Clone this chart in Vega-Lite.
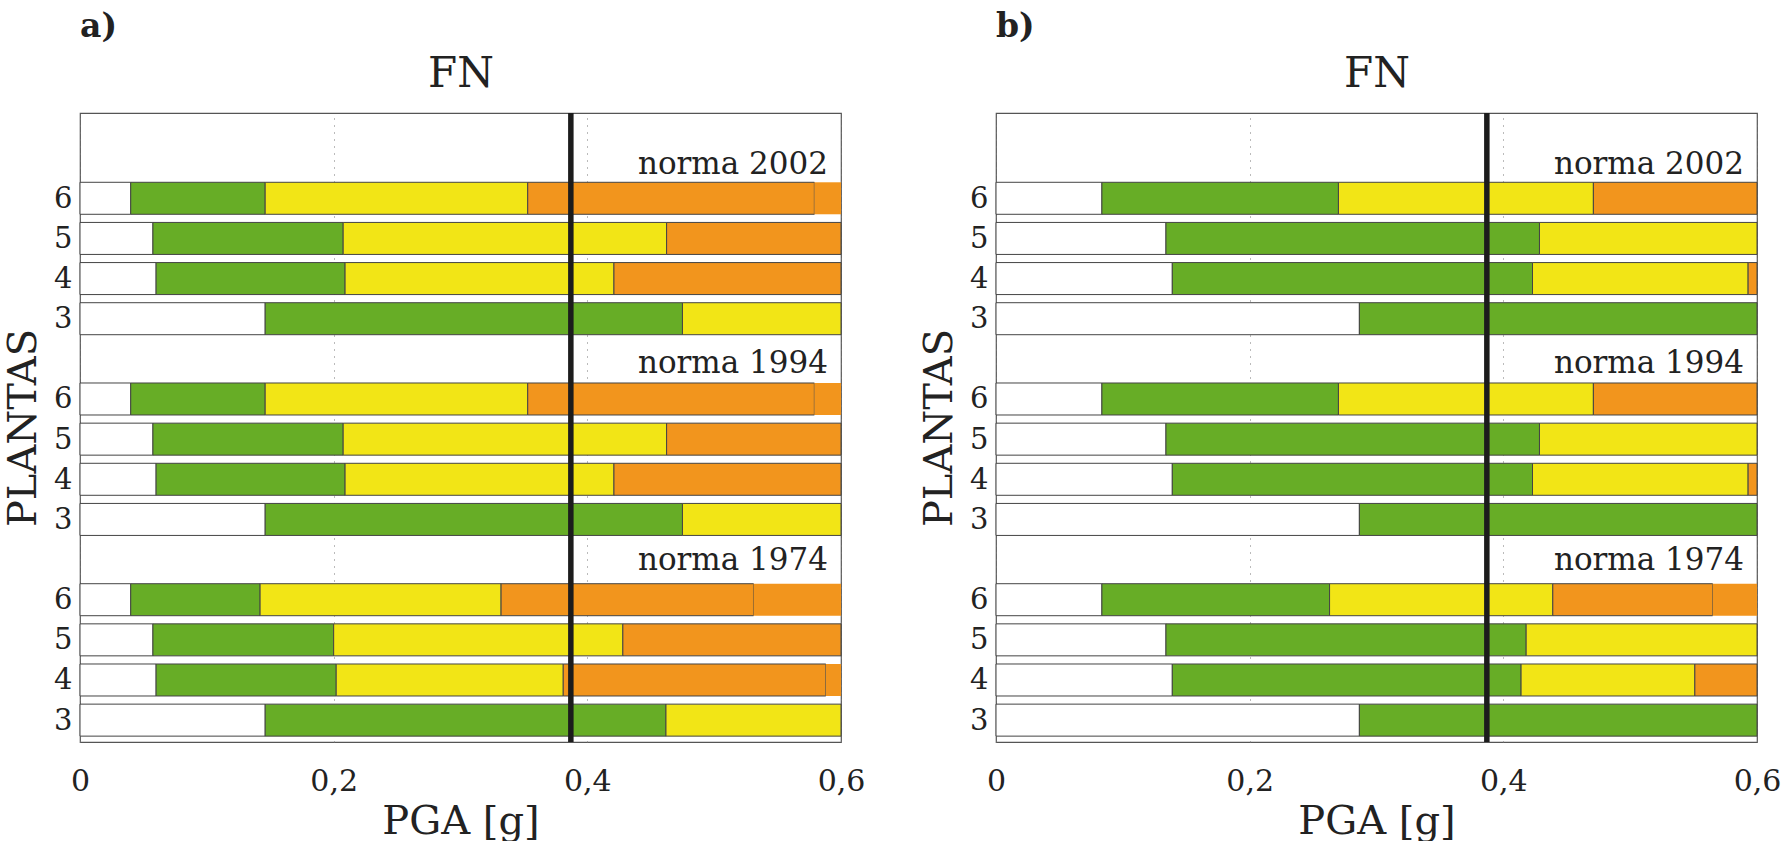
{
  "$schema": "https://vega.github.io/schema/vega-lite/v6.json",
  "background": "white",
  "padding": {"left": 2, "top": 10, "right": 0, "bottom": 0},
  "spacing": 52,
  "config": {
    "font": "DejaVu Serif",
    "view": {"stroke": "#555", "strokeWidth": 1.2},
    "axis": {"labelFont": "DejaVu Serif", "titleFont": "DejaVu Serif", "labelColor": "#222", "titleColor": "#222", "titleFontWeight": "normal"}
  },
  "datasets": {
    "bars": [
      {"panel": "a", "norma": "2002", "planta": 6, "pos": 2, "seg": "blanco", "x0": 0, "x1": 0.040},
      {"panel": "a", "norma": "2002", "planta": 6, "pos": 2, "seg": "verde", "x0": 0.040, "x1": 0.146},
      {"panel": "a", "norma": "2002", "planta": 6, "pos": 2, "seg": "amarillo", "x0": 0.146, "x1": 0.353},
      {"panel": "a", "norma": "2002", "planta": 6, "pos": 2, "seg": "naranja", "x0": 0.353, "x1": 0.579},
      {"panel": "a", "norma": "2002", "planta": 6, "pos": 2, "seg": "extra", "x0": 0.579, "x1": 0.6},
      {"panel": "a", "norma": "2002", "planta": 5, "pos": 3, "seg": "blanco", "x0": 0, "x1": 0.0575},
      {"panel": "a", "norma": "2002", "planta": 5, "pos": 3, "seg": "verde", "x0": 0.0575, "x1": 0.2075},
      {"panel": "a", "norma": "2002", "planta": 5, "pos": 3, "seg": "amarillo", "x0": 0.2075, "x1": 0.4625},
      {"panel": "a", "norma": "2002", "planta": 5, "pos": 3, "seg": "naranja", "x0": 0.4625, "x1": 0.6},
      {"panel": "a", "norma": "2002", "planta": 4, "pos": 4, "seg": "blanco", "x0": 0, "x1": 0.060},
      {"panel": "a", "norma": "2002", "planta": 4, "pos": 4, "seg": "verde", "x0": 0.060, "x1": 0.209},
      {"panel": "a", "norma": "2002", "planta": 4, "pos": 4, "seg": "amarillo", "x0": 0.209, "x1": 0.421},
      {"panel": "a", "norma": "2002", "planta": 4, "pos": 4, "seg": "naranja", "x0": 0.421, "x1": 0.6},
      {"panel": "a", "norma": "2002", "planta": 3, "pos": 5, "seg": "blanco", "x0": 0, "x1": 0.146},
      {"panel": "a", "norma": "2002", "planta": 3, "pos": 5, "seg": "verde", "x0": 0.146, "x1": 0.475},
      {"panel": "a", "norma": "2002", "planta": 3, "pos": 5, "seg": "amarillo", "x0": 0.475, "x1": 0.6},
      {"panel": "a", "norma": "1994", "planta": 6, "pos": 7, "seg": "blanco", "x0": 0, "x1": 0.040},
      {"panel": "a", "norma": "1994", "planta": 6, "pos": 7, "seg": "verde", "x0": 0.040, "x1": 0.146},
      {"panel": "a", "norma": "1994", "planta": 6, "pos": 7, "seg": "amarillo", "x0": 0.146, "x1": 0.353},
      {"panel": "a", "norma": "1994", "planta": 6, "pos": 7, "seg": "naranja", "x0": 0.353, "x1": 0.579},
      {"panel": "a", "norma": "1994", "planta": 6, "pos": 7, "seg": "extra", "x0": 0.579, "x1": 0.6},
      {"panel": "a", "norma": "1994", "planta": 5, "pos": 8, "seg": "blanco", "x0": 0, "x1": 0.0575},
      {"panel": "a", "norma": "1994", "planta": 5, "pos": 8, "seg": "verde", "x0": 0.0575, "x1": 0.2075},
      {"panel": "a", "norma": "1994", "planta": 5, "pos": 8, "seg": "amarillo", "x0": 0.2075, "x1": 0.4625},
      {"panel": "a", "norma": "1994", "planta": 5, "pos": 8, "seg": "naranja", "x0": 0.4625, "x1": 0.6},
      {"panel": "a", "norma": "1994", "planta": 4, "pos": 9, "seg": "blanco", "x0": 0, "x1": 0.060},
      {"panel": "a", "norma": "1994", "planta": 4, "pos": 9, "seg": "verde", "x0": 0.060, "x1": 0.209},
      {"panel": "a", "norma": "1994", "planta": 4, "pos": 9, "seg": "amarillo", "x0": 0.209, "x1": 0.421},
      {"panel": "a", "norma": "1994", "planta": 4, "pos": 9, "seg": "naranja", "x0": 0.421, "x1": 0.6},
      {"panel": "a", "norma": "1994", "planta": 3, "pos": 10, "seg": "blanco", "x0": 0, "x1": 0.146},
      {"panel": "a", "norma": "1994", "planta": 3, "pos": 10, "seg": "verde", "x0": 0.146, "x1": 0.475},
      {"panel": "a", "norma": "1994", "planta": 3, "pos": 10, "seg": "amarillo", "x0": 0.475, "x1": 0.6},
      {"panel": "a", "norma": "1974", "planta": 6, "pos": 12, "seg": "blanco", "x0": 0, "x1": 0.040},
      {"panel": "a", "norma": "1974", "planta": 6, "pos": 12, "seg": "verde", "x0": 0.040, "x1": 0.142},
      {"panel": "a", "norma": "1974", "planta": 6, "pos": 12, "seg": "amarillo", "x0": 0.142, "x1": 0.332},
      {"panel": "a", "norma": "1974", "planta": 6, "pos": 12, "seg": "naranja", "x0": 0.332, "x1": 0.531},
      {"panel": "a", "norma": "1974", "planta": 6, "pos": 12, "seg": "extra", "x0": 0.531, "x1": 0.6},
      {"panel": "a", "norma": "1974", "planta": 5, "pos": 13, "seg": "blanco", "x0": 0, "x1": 0.0575},
      {"panel": "a", "norma": "1974", "planta": 5, "pos": 13, "seg": "verde", "x0": 0.0575, "x1": 0.200},
      {"panel": "a", "norma": "1974", "planta": 5, "pos": 13, "seg": "amarillo", "x0": 0.200, "x1": 0.428},
      {"panel": "a", "norma": "1974", "planta": 5, "pos": 13, "seg": "naranja", "x0": 0.428, "x1": 0.6},
      {"panel": "a", "norma": "1974", "planta": 4, "pos": 14, "seg": "blanco", "x0": 0, "x1": 0.060},
      {"panel": "a", "norma": "1974", "planta": 4, "pos": 14, "seg": "verde", "x0": 0.060, "x1": 0.202},
      {"panel": "a", "norma": "1974", "planta": 4, "pos": 14, "seg": "amarillo", "x0": 0.202, "x1": 0.381},
      {"panel": "a", "norma": "1974", "planta": 4, "pos": 14, "seg": "naranja", "x0": 0.381, "x1": 0.588},
      {"panel": "a", "norma": "1974", "planta": 4, "pos": 14, "seg": "extra", "x0": 0.588, "x1": 0.6},
      {"panel": "a", "norma": "1974", "planta": 3, "pos": 15, "seg": "blanco", "x0": 0, "x1": 0.146},
      {"panel": "a", "norma": "1974", "planta": 3, "pos": 15, "seg": "verde", "x0": 0.146, "x1": 0.462},
      {"panel": "a", "norma": "1974", "planta": 3, "pos": 15, "seg": "amarillo", "x0": 0.462, "x1": 0.6},
      {"panel": "b", "norma": "2002", "planta": 6, "pos": 2, "seg": "blanco", "x0": 0, "x1": 0.0835},
      {"panel": "b", "norma": "2002", "planta": 6, "pos": 2, "seg": "verde", "x0": 0.0835, "x1": 0.270},
      {"panel": "b", "norma": "2002", "planta": 6, "pos": 2, "seg": "amarillo", "x0": 0.270, "x1": 0.471},
      {"panel": "b", "norma": "2002", "planta": 6, "pos": 2, "seg": "naranja", "x0": 0.471, "x1": 0.6},
      {"panel": "b", "norma": "2002", "planta": 5, "pos": 3, "seg": "blanco", "x0": 0, "x1": 0.134},
      {"panel": "b", "norma": "2002", "planta": 5, "pos": 3, "seg": "verde", "x0": 0.134, "x1": 0.4285},
      {"panel": "b", "norma": "2002", "planta": 5, "pos": 3, "seg": "amarillo", "x0": 0.4285, "x1": 0.6},
      {"panel": "b", "norma": "2002", "planta": 4, "pos": 4, "seg": "blanco", "x0": 0, "x1": 0.139},
      {"panel": "b", "norma": "2002", "planta": 4, "pos": 4, "seg": "verde", "x0": 0.139, "x1": 0.423},
      {"panel": "b", "norma": "2002", "planta": 4, "pos": 4, "seg": "amarillo", "x0": 0.423, "x1": 0.593},
      {"panel": "b", "norma": "2002", "planta": 4, "pos": 4, "seg": "naranja", "x0": 0.593, "x1": 0.6},
      {"panel": "b", "norma": "2002", "planta": 3, "pos": 5, "seg": "blanco", "x0": 0, "x1": 0.2865},
      {"panel": "b", "norma": "2002", "planta": 3, "pos": 5, "seg": "verde", "x0": 0.2865, "x1": 0.6},
      {"panel": "b", "norma": "1994", "planta": 6, "pos": 7, "seg": "blanco", "x0": 0, "x1": 0.0835},
      {"panel": "b", "norma": "1994", "planta": 6, "pos": 7, "seg": "verde", "x0": 0.0835, "x1": 0.270},
      {"panel": "b", "norma": "1994", "planta": 6, "pos": 7, "seg": "amarillo", "x0": 0.270, "x1": 0.471},
      {"panel": "b", "norma": "1994", "planta": 6, "pos": 7, "seg": "naranja", "x0": 0.471, "x1": 0.6},
      {"panel": "b", "norma": "1994", "planta": 5, "pos": 8, "seg": "blanco", "x0": 0, "x1": 0.134},
      {"panel": "b", "norma": "1994", "planta": 5, "pos": 8, "seg": "verde", "x0": 0.134, "x1": 0.4285},
      {"panel": "b", "norma": "1994", "planta": 5, "pos": 8, "seg": "amarillo", "x0": 0.4285, "x1": 0.6},
      {"panel": "b", "norma": "1994", "planta": 4, "pos": 9, "seg": "blanco", "x0": 0, "x1": 0.139},
      {"panel": "b", "norma": "1994", "planta": 4, "pos": 9, "seg": "verde", "x0": 0.139, "x1": 0.423},
      {"panel": "b", "norma": "1994", "planta": 4, "pos": 9, "seg": "amarillo", "x0": 0.423, "x1": 0.593},
      {"panel": "b", "norma": "1994", "planta": 4, "pos": 9, "seg": "naranja", "x0": 0.593, "x1": 0.6},
      {"panel": "b", "norma": "1994", "planta": 3, "pos": 10, "seg": "blanco", "x0": 0, "x1": 0.2865},
      {"panel": "b", "norma": "1994", "planta": 3, "pos": 10, "seg": "verde", "x0": 0.2865, "x1": 0.6},
      {"panel": "b", "norma": "1974", "planta": 6, "pos": 12, "seg": "blanco", "x0": 0, "x1": 0.0835},
      {"panel": "b", "norma": "1974", "planta": 6, "pos": 12, "seg": "verde", "x0": 0.0835, "x1": 0.263},
      {"panel": "b", "norma": "1974", "planta": 6, "pos": 12, "seg": "amarillo", "x0": 0.263, "x1": 0.439},
      {"panel": "b", "norma": "1974", "planta": 6, "pos": 12, "seg": "naranja", "x0": 0.439, "x1": 0.565},
      {"panel": "b", "norma": "1974", "planta": 6, "pos": 12, "seg": "extra", "x0": 0.565, "x1": 0.6},
      {"panel": "b", "norma": "1974", "planta": 5, "pos": 13, "seg": "blanco", "x0": 0, "x1": 0.134},
      {"panel": "b", "norma": "1974", "planta": 5, "pos": 13, "seg": "verde", "x0": 0.134, "x1": 0.418},
      {"panel": "b", "norma": "1974", "planta": 5, "pos": 13, "seg": "amarillo", "x0": 0.418, "x1": 0.6},
      {"panel": "b", "norma": "1974", "planta": 4, "pos": 14, "seg": "blanco", "x0": 0, "x1": 0.139},
      {"panel": "b", "norma": "1974", "planta": 4, "pos": 14, "seg": "verde", "x0": 0.139, "x1": 0.414},
      {"panel": "b", "norma": "1974", "planta": 4, "pos": 14, "seg": "amarillo", "x0": 0.414, "x1": 0.551},
      {"panel": "b", "norma": "1974", "planta": 4, "pos": 14, "seg": "naranja", "x0": 0.551, "x1": 0.6},
      {"panel": "b", "norma": "1974", "planta": 3, "pos": 15, "seg": "blanco", "x0": 0, "x1": 0.2865},
      {"panel": "b", "norma": "1974", "planta": 3, "pos": 15, "seg": "verde", "x0": 0.2865, "x1": 0.6}
    ],
    "normas": [
      {"panel": "a", "texto": "norma 2002", "pos": 1.40},
      {"panel": "a", "texto": "norma 1994", "pos": 6.36},
      {"panel": "a", "texto": "norma 1974", "pos": 11.26},
      {"panel": "b", "texto": "norma 2002", "pos": 1.40},
      {"panel": "b", "texto": "norma 1994", "pos": 6.36},
      {"panel": "b", "texto": "norma 1974", "pos": 11.26}
    ],
    "fn": [
      {"panel": "a", "umbral": 0.387},
      {"panel": "b", "umbral": 0.387}
    ]
  },
  "hconcat": [
    {
      "width": 761,
      "height": 629,
      "title": {"text": "a)", "anchor": "start", "frame": "group", "font": "DejaVu Serif", "fontWeight": "bold", "fontSize": 33, "color": "#222", "offset": 8},
      "resolve": {"axis": {"x": "independent"}},
      "layer": [
        {
          "data": {"name": "bars"},
          "transform": [{"filter": "datum.panel == 'a'"}],
          "mark": {"type": "bar", "height": 32, "strokeWidth": 1},
          "encoding": {
            "x": {"field": "x0", "type": "quantitative", "scale": {"domain": [0, 0.6], "nice": false},
              "axis": {"values": [0, 0.2, 0.4, 0.6], "labelExpr": "replace(datum.label, '.', ',')", "format": ".1~f", "title": "PGA [g]", "labelFontSize": 30, "titleFontSize": 40, "ticks": false, "domain": false, "labelPadding": 24, "titlePadding": 5, "labelFlush": false, "grid": true, "gridDash": [1, 6], "gridColor": "#777", "gridWidth": 1}},
            "x2": {"field": "x1"},
            "y": {"field": "pos", "type": "quantitative", "scale": {"domain": [0, 15.42], "reverse": true, "nice": false, "zero": false},
              "axis": {"values": [2, 3, 4, 5, 7, 8, 9, 10, 12, 13, 14, 15], "labelExpr": "datum.value % 5 == 2 ? '6' : datum.value % 5 == 3 ? '5' : datum.value % 5 == 4 ? '4' : '3'", "title": "PLANTAS", "labelFontSize": 29, "titleFontSize": 40, "ticks": false, "domain": false, "grid": false, "labelPadding": 8, "titlePadding": 10}},
            "color": {"field": "seg", "type": "nominal", "legend": null,
              "scale": {"domain": ["blanco", "verde", "amarillo", "naranja", "extra"], "range": ["#ffffff", "#67ad26", "#f2e516", "#f2951d", "#f2951d"]}},
            "stroke": {"condition": {"test": "datum.seg == 'extra'", "value": "transparent"}, "value": "#444"}
          }
        },
        {
          "data": {"name": "normas"},
          "transform": [{"filter": "datum.panel == 'a'"}],
          "mark": {"type": "text", "align": "right", "baseline": "alphabetic", "dx": -13, "fontSize": 31, "color": "#222"},
          "encoding": {
            "x": {"datum": 0.6, "type": "quantitative", "axis": null},
            "y": {"field": "pos", "type": "quantitative"},
            "text": {"field": "texto"}
          }
        },
        {
          "data": {"name": "fn"},
          "transform": [{"filter": "datum.panel == 'a'"}],
          "mark": {"type": "rule", "strokeWidth": 5.5, "color": "#1c1c1c"},
          "encoding": {
            "x": {"field": "umbral", "type": "quantitative",
              "axis": {"orient": "top", "title": "FN", "titleFontSize": 42, "labels": false, "ticks": false, "domain": false, "grid": false, "titlePadding": 27, "titleBaseline": "alphabetic"}}
          }
        }
      ]
    },
    {
      "width": 761,
      "height": 629,
      "title": {"text": "b)", "anchor": "start", "frame": "group", "font": "DejaVu Serif", "fontWeight": "bold", "fontSize": 33, "color": "#222", "offset": 8},
      "resolve": {"axis": {"x": "independent"}},
      "layer": [
        {
          "data": {"name": "bars"},
          "transform": [{"filter": "datum.panel == 'b'"}],
          "mark": {"type": "bar", "height": 32, "strokeWidth": 1},
          "encoding": {
            "x": {"field": "x0", "type": "quantitative", "scale": {"domain": [0, 0.6], "nice": false},
              "axis": {"values": [0, 0.2, 0.4, 0.6], "labelExpr": "replace(datum.label, '.', ',')", "format": ".1~f", "title": "PGA [g]", "labelFontSize": 30, "titleFontSize": 40, "ticks": false, "domain": false, "labelPadding": 24, "titlePadding": 5, "labelFlush": false, "grid": true, "gridDash": [1, 6], "gridColor": "#777", "gridWidth": 1}},
            "x2": {"field": "x1"},
            "y": {"field": "pos", "type": "quantitative", "scale": {"domain": [0, 15.42], "reverse": true, "nice": false, "zero": false},
              "axis": {"values": [2, 3, 4, 5, 7, 8, 9, 10, 12, 13, 14, 15], "labelExpr": "datum.value % 5 == 2 ? '6' : datum.value % 5 == 3 ? '5' : datum.value % 5 == 4 ? '4' : '3'", "title": "PLANTAS", "labelFontSize": 29, "titleFontSize": 40, "ticks": false, "domain": false, "grid": false, "labelPadding": 8, "titlePadding": 10}},
            "color": {"field": "seg", "type": "nominal", "legend": null,
              "scale": {"domain": ["blanco", "verde", "amarillo", "naranja", "extra"], "range": ["#ffffff", "#67ad26", "#f2e516", "#f2951d", "#f2951d"]}},
            "stroke": {"condition": {"test": "datum.seg == 'extra'", "value": "transparent"}, "value": "#444"}
          }
        },
        {
          "data": {"name": "normas"},
          "transform": [{"filter": "datum.panel == 'b'"}],
          "mark": {"type": "text", "align": "right", "baseline": "alphabetic", "dx": -13, "fontSize": 31, "color": "#222"},
          "encoding": {
            "x": {"datum": 0.6, "type": "quantitative", "axis": null},
            "y": {"field": "pos", "type": "quantitative"},
            "text": {"field": "texto"}
          }
        },
        {
          "data": {"name": "fn"},
          "transform": [{"filter": "datum.panel == 'b'"}],
          "mark": {"type": "rule", "strokeWidth": 5.5, "color": "#1c1c1c"},
          "encoding": {
            "x": {"field": "umbral", "type": "quantitative",
              "axis": {"orient": "top", "title": "FN", "titleFontSize": 42, "labels": false, "ticks": false, "domain": false, "grid": false, "titlePadding": 27, "titleBaseline": "alphabetic"}}
          }
        }
      ]
    }
  ]
}
